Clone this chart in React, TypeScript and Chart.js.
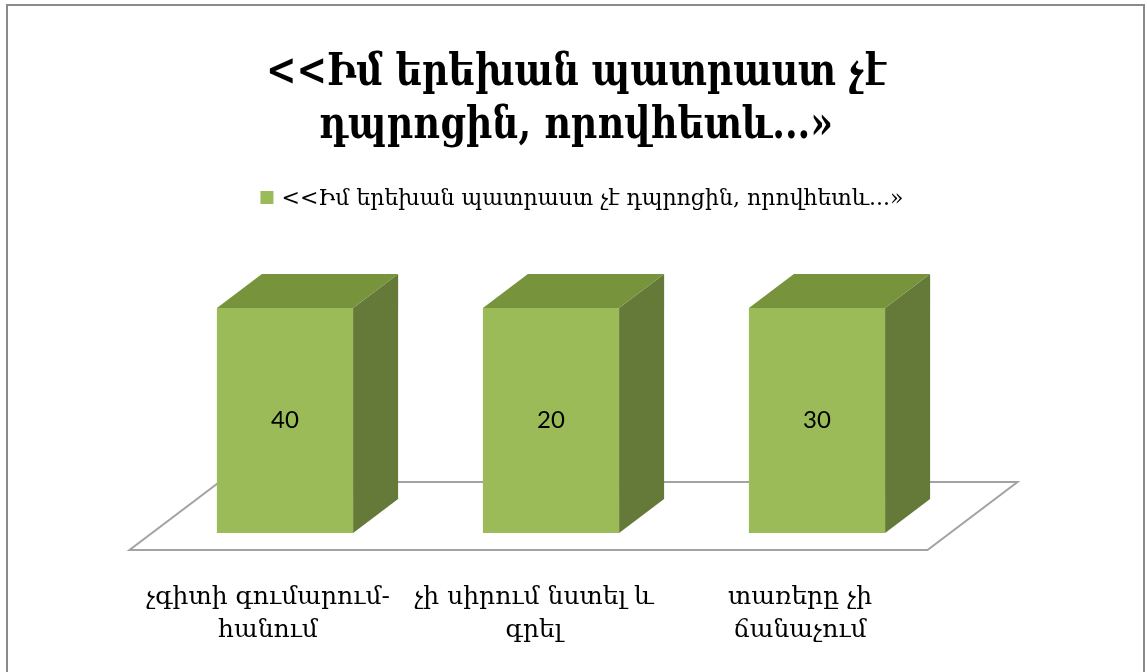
import React, { useEffect, useRef } from "react";
import { Chart, registerables } from "chart.js";

Chart.register(...registerables);

// ---- data ----
const titleLines = ["<<Իմ երեխան պատրաստ չէ", "դպրոցին, որովհետև...»"];
const seriesName = "<<Իմ երեխան պատրաստ չէ դպրոցին, որովհետև...»";
const categories = [
  ["չգիտի գումարում-", "հանում"],
  ["չի սիրում նստել և", "գրել"],
  ["տառերը չի", "ճանաչում"],
];
const values = [40, 20, 30];
const valueAxisMin = 0;
const valueAxisMax = 16;

// ---- style ----
const SERIF = "'DejaVu Serif', serif";
const FRONT = "#9BBB59";
const TOP = "#77933C";
const SIDE = "#657A38";
const DX = 45;
const DY = 34;
const TITLE_SCALE_X = 0.81;

const framePlugin = {
  id: "frame3d",
  beforeDraw(chart: any) {
    const ctx = chart.ctx;
    ctx.save();
    ctx.fillStyle = "#ffffff";
    ctx.fillRect(0, 0, chart.width, chart.height);
    ctx.strokeStyle = "#8a8a8a";
    ctx.lineWidth = 2;
    ctx.strokeRect(7, 5, chart.width - 10, chart.height + 100);
    ctx.restore();
  },
  beforeDatasetsDraw(chart: any) {
    const ctx = chart.ctx;
    const xs = chart.scales.x;
    const ys = chart.scales.y;
    const base = ys.getPixelForValue(valueAxisMin);
    const l = xs.left;
    const r = xs.right;
    ctx.save();
    ctx.beginPath();
    ctx.moveTo(l - DX / 2, base + DY / 2);
    ctx.lineTo(r - DX / 2, base + DY / 2);
    ctx.lineTo(r + 1.5 * DX, base - 1.5 * DY);
    ctx.lineTo(l + 1.5 * DX, base - 1.5 * DY);
    ctx.closePath();
    ctx.fillStyle = "#ffffff";
    ctx.fill();
    ctx.strokeStyle = "#a3a3a3";
    ctx.lineWidth = 2;
    ctx.stroke();
    ctx.restore();
  },
  afterDatasetsDraw(chart: any) {
    const ctx = chart.ctx;
    const meta = chart.getDatasetMeta(0);
    const data = chart.data.datasets[0].data;
    ctx.save();
    meta.data.forEach((bar: any, i: number) => {
      const { x, y, base, width } = bar.getProps(["x", "y", "base", "width"], true);
      const top = Math.max(y, chart.chartArea.top);
      const l = x - width / 2;
      const r = x + width / 2;
      ctx.fillStyle = SIDE;
      ctx.beginPath();
      ctx.moveTo(r, top);
      ctx.lineTo(r + DX, top - DY);
      ctx.lineTo(r + DX, base - DY);
      ctx.lineTo(r, base);
      ctx.closePath();
      ctx.fill();
      ctx.fillStyle = TOP;
      ctx.beginPath();
      ctx.moveTo(l, top);
      ctx.lineTo(l + DX, top - DY);
      ctx.lineTo(r + DX, top - DY);
      ctx.lineTo(r, top);
      ctx.closePath();
      ctx.fill();
      ctx.fillStyle = "#000000";
      ctx.font = "24px Lato, 'Open Sans', sans-serif";
      ctx.textAlign = "center";
      ctx.textBaseline = "middle";
      ctx.fillText(String(data[i]), x, (top + base) / 2);
    });
    ctx.restore();
  },
  afterDraw(chart: any) {
    const ctx = chart.ctx;
    // title (two lines, centred)
    ctx.save();
    ctx.fillStyle = "#000000";
    ctx.font = "bold 45px " + SERIF;
    ctx.textAlign = "center";
    ctx.textBaseline = "alphabetic";
    const titleCx = 576;
    const baselines = [85, 138];
    titleLines.forEach((line, i) => {
      ctx.save();
      ctx.translate(titleCx, baselines[i]);
      ctx.scale(TITLE_SCALE_X, 1);
      ctx.fillText(line, 0, 0);
      ctx.restore();
    });
    ctx.restore();

    // legend
    ctx.save();
    ctx.font = "22px " + SERIF;
    const tw = ctx.measureText(seriesName).width;
    const box = 13;
    const gap = 8;
    const total = box + gap + tw;
    const cx = 582;
    const x0 = cx - total / 2;
    ctx.fillStyle = FRONT;
    ctx.fillRect(x0, 191, box, box);
    ctx.fillStyle = "#000000";
    ctx.textAlign = "left";
    ctx.textBaseline = "alphabetic";
    ctx.fillText(seriesName, x0 + box + gap, 205);
    ctx.restore();
  },
};

export default function App() {
  const ref = useRef<HTMLCanvasElement>(null);
  useEffect(() => {
    if (!ref.current) return;
    const chart = new Chart(ref.current, {
      type: "bar",
      data: {
        labels: categories,
        datasets: [
          {
            label: seriesName,
            data: values,
            backgroundColor: FRONT,
            borderWidth: 0,
            categoryPercentage: 1,
            barPercentage: 0.512,
          },
        ],
      },
      options: {
        animation: false,
        responsive: false,
        devicePixelRatio: 1,
        layout: { padding: { left: 152, right: 197, top: 308, bottom: 21 } },
        plugins: {
          legend: { display: false },
          tooltip: { enabled: false },
          title: { display: false },
        },
        scales: {
          x: {
            offset: true,
            grid: { display: true, color: "rgba(0,0,0,0)", drawOnChartArea: false, drawTicks: true, tickLength: 44 },
            border: { display: false },
            ticks: {
              color: "#000000",
              font: { family: SERIF, size: 25, lineHeight: 1.32 },
              padding: 4,
              labelOffset: -17,
              maxRotation: 0,
              minRotation: 0,
              autoSkip: false,
            },
          },
          y: {
            display: false,
            min: valueAxisMin,
            max: valueAxisMax,
          },
        },
      },
      plugins: [framePlugin],
    });
    return () => chart.destroy();
  }, []);
  return (
    <div style={{ position: "fixed", left: 0, top: 0, width: 1147, height: 672, background: "#fff" }}>
      <canvas ref={ref} width={1147} height={672} />
    </div>
  );
}
